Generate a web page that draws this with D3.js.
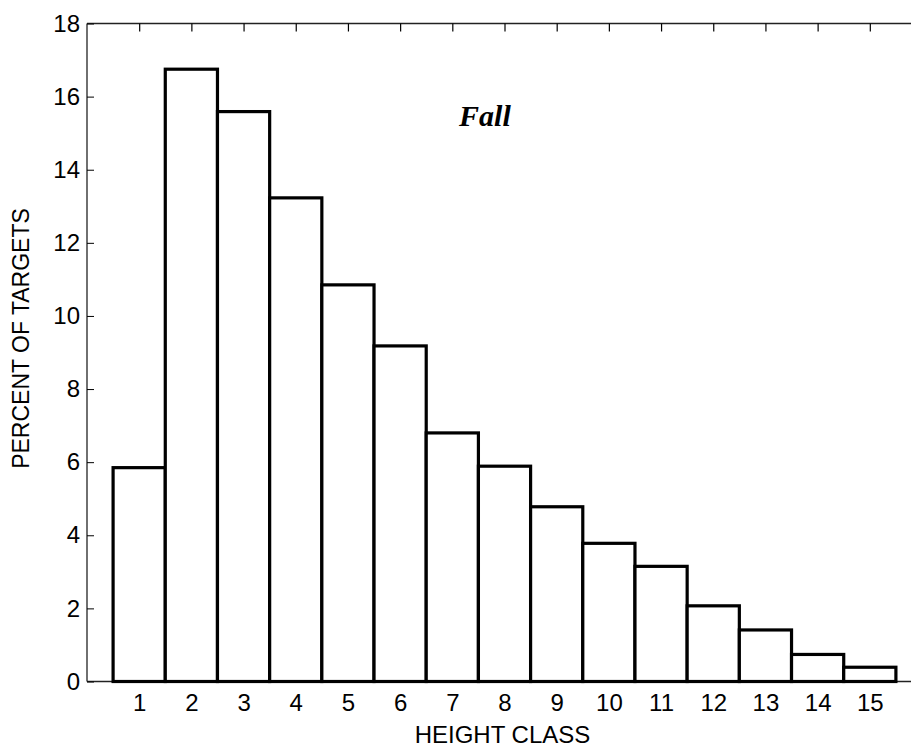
<!DOCTYPE html>
<html><head><meta charset="utf-8">
<script src="https://cdn.jsdelivr.net/npm/d3@7"></script>
<style>body{margin:0;background:#fff}svg{display:block}</style>
</head><body>
<svg id="chart" width="911" height="748"></svg>
<script>
const categories = [1,2,3,4,5,6,7,8,9,10,11,12,13,14,15];
const percentValues = [5.85,16.75,15.59,13.23,10.85,9.18,6.80,5.89,4.78,3.78,3.15,2.07,1.41,0.74,0.39];
const yTicks = [0,2,4,6,8,10,12,14,16,18];
const xTitle = "HEIGHT CLASS";
const yTitle = "PERCENT OF TARGETS";
const annotation = "Fall";

const svg = d3.select("#chart");
const x = d3.scaleLinear().domain([0,16]).range([87,922]);
const y = d3.scaleLinear().domain([0,18]).range([681.5,23.5]);
const font = "'Liberation Sans', Arial, sans-serif";

// frame
const frame = svg.append("g").attr("stroke","#222").attr("stroke-width",1.3).attr("fill","none");
frame.append("line").attr("x1",x(0)).attr("x2",x(16)).attr("y1",y(18)).attr("y2",y(18));
frame.append("line").attr("x1",x(0)).attr("x2",x(0)).attr("y1",y(0)).attr("y2",y(18));
frame.append("line").attr("x1",x(0)).attr("x2",x(16)).attr("y1",y(0)).attr("y2",y(0));

// top ticks (inward)
svg.append("g").attr("transform",`translate(0,${y(18)})`)
  .call(d3.axisTop(x).tickValues(categories).tickSize(-8).tickFormat(""))
  .call(g=>{g.select(".domain").remove();g.selectAll("line").attr("stroke","#000").attr("stroke-width",1.2);});

// left axis (ticks inward)
svg.append("g").attr("transform",`translate(${x(0)},0)`)
  .call(d3.axisLeft(y).tickValues(yTicks).tickSize(-7).tickPadding(7).tickFormat(d3.format("d")))
  .call(g=>{g.select(".domain").remove();
    g.selectAll("line").attr("stroke","#000").attr("stroke-width",1);
    g.selectAll("text").attr("font-family",font).attr("font-size",24).attr("fill","#000");});

// bars
svg.append("g").selectAll("rect").data(categories).join("rect")
  .attr("x",(d)=>x(d-0.5))
  .attr("width",x(1)-x(0))
  .attr("y",(d,i)=>y(percentValues[i]))
  .attr("height",(d,i)=>y(0)-y(percentValues[i]))
  .attr("fill","#fff").attr("stroke","#000").attr("stroke-width",3.2);

// bottom labels
svg.append("g").attr("transform",`translate(0,${y(0)})`)
  .call(d3.axisBottom(x).tickValues(categories).tickSize(0).tickPadding(12).tickFormat(d3.format("d")))
  .call(g=>{g.select(".domain").remove();
    g.selectAll("text").attr("font-family",font).attr("font-size",24).attr("fill","#000");});

// titles
svg.append("text").attr("x",(x(0)+x(16))/2 - 2).attr("y",743)
  .attr("text-anchor","middle").attr("font-family",font).attr("font-size",24).text(xTitle);
svg.append("text").attr("transform",`translate(29,${(y(0)+y(18))/2 - 14}) rotate(-90)`)
  .attr("text-anchor","middle").attr("font-family",font).attr("font-size",23).text(yTitle);

// annotation
svg.append("text").attr("x",x(7.13)).attr("y",y(15.19))
  .attr("font-family","'Liberation Serif', 'Times New Roman', serif")
  .attr("font-weight","bold").attr("font-style","italic").attr("font-size",30).text(annotation);
</script>
</body></html>
